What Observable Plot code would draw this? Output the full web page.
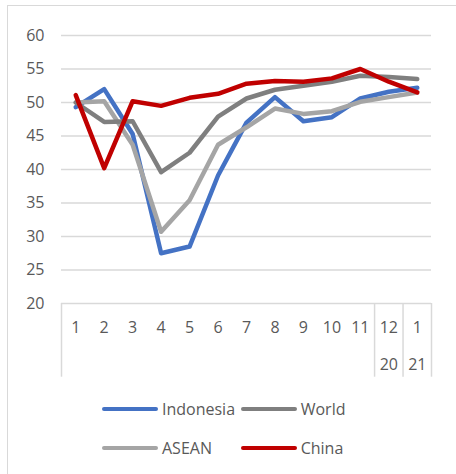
<!DOCTYPE html>
<html><head><meta charset="utf-8">
<script src="https://cdn.jsdelivr.net/npm/d3@7"></script>
<script src="https://cdn.jsdelivr.net/npm/@observablehq/plot@0.6"></script>
<style>
body{margin:0;background:#fff;font-family:"Open Sans",sans-serif;}
#wrap{position:relative;width:456px;height:474px;overflow:hidden;background:#fff}
#frame{position:absolute;left:7px;top:5px;right:-2px;bottom:-2px;border-left:1.5px solid #d9d9d9;border-top:1.5px solid #d9d9d9}
#chart{position:absolute;left:0;top:0}
#legend{position:absolute;left:102px;top:398px;display:grid;grid-template-columns:138.7px 138.7px;row-gap:17px}
.item{display:flex;align-items:center;height:22px;font-size:16px;color:#595959}
.sw{width:56px;height:4.5px;border-radius:3px;margin-right:4px}
</style></head>
<body>
<div id="wrap"><div id="frame"></div><div id="chart"></div><div id="legend"></div></div>
<script>
const months = ["1","2","3","4","5","6","7","8","9","10","11","12","1"];
const years  = ["","","","","","","","","","","","20","21"];
const yTicks = [20,25,30,35,40,45,50,55,60];
const indonesia = [49.3,52.0,45.3,27.5,28.5,39.1,47.0,50.8,47.2,47.8,50.6,51.6,52.2];
const world     = [50.0,47.1,47.2,39.6,42.5,47.9,50.6,51.9,52.5,53.1,54.0,53.8,53.5];
const asean     = [50.0,50.2,43.7,30.7,35.4,43.7,46.3,49.1,48.3,48.7,50.1,50.8,51.5];
const china     = [51.1,40.2,50.2,49.5,50.7,51.3,52.8,53.2,53.1,53.6,55.0,53.1,51.5];
const series = [
  {name:"Indonesia", values:indonesia, color:"#4472c4"},
  {name:"World", values:world, color:"#7f7f7f"},
  {name:"ASEAN", values:asean, color:"#a5a5a5"},
  {name:"China", values:china, color:"#c00000"}
];
const drawOrder = ["Indonesia","ASEAN","World","China"];
const idx = months.map((m,i)=>i+1);
const lineMarks = drawOrder.map(n => {
  const s = series.find(d=>d.name===n);
  return Plot.lineY(s.values, {x:(d,i)=>i+1, y:d=>d, stroke:s.color, strokeWidth:4.5, strokeLinejoin:"round", strokeLinecap:"round"});
});
const chart = Plot.plot({
  width:456, height:386,
  marginLeft:61, marginRight:25, marginTop:35, marginBottom:83,
  style:{fontFamily:"Open Sans, sans-serif", fontSize:"16px", color:"#595959", background:"transparent"},
  x:{domain:[0.5,13.5], axis:null},
  y:{domain:[20,60], axis:null},
  marks:[
    Plot.ruleY(yTicks, {stroke:"#d9d9d9", strokeWidth:1.5}),
    Plot.ruleX([0.5,11.5,12.5,13.5], {y1:20, y2:9, stroke:"#d9d9d9", strokeWidth:1.5}),
    Plot.axisY(yTicks, {tickSize:0, tickPadding:17, fontSize:16, fill:"#595959", label:null}),
    ...lineMarks,
    Plot.text(idx, {x:d=>d, y:20, text:d=>months[d-1], dy:24.5, fontSize:16, fill:"#595959"}),
    Plot.text(idx, {x:d=>d, y:20, text:d=>years[d-1], dy:61, fontSize:16, fill:"#595959"})
  ]
});
document.getElementById("chart").appendChild(chart);
const legendOrder = ["Indonesia","World","ASEAN","China"];
const leg = document.getElementById("legend");
legendOrder.forEach(n=>{
  const s = series.find(d=>d.name===n);
  const it = document.createElement("div"); it.className="item";
  const sw = document.createElement("span"); sw.className="sw"; sw.style.background=s.color;
  const tx = document.createElement("span"); tx.textContent=s.name;
  it.appendChild(sw); it.appendChild(tx); leg.appendChild(it);
});
</script>
</body></html>
